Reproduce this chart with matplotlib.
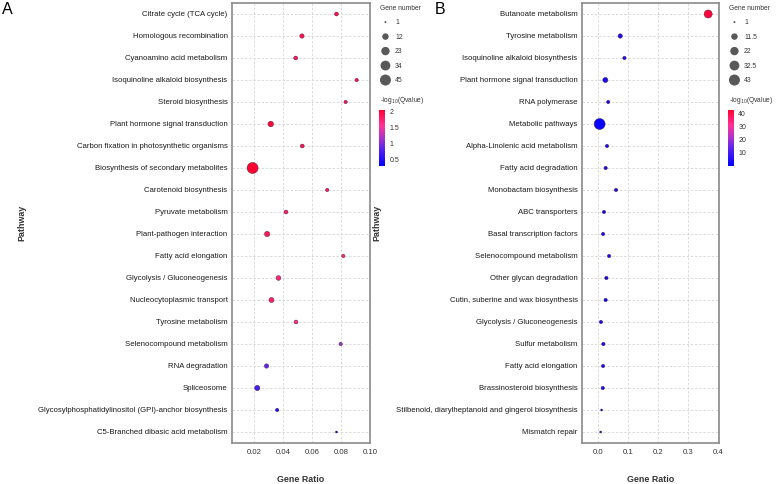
import numpy as np
import matplotlib
matplotlib.use('Agg')
import matplotlib.pyplot as plt
from matplotlib.colors import LinearSegmentedColormap, Normalize

plt.rcParams['font.family'] = ['Liberation Sans', 'DejaVu Sans']

# ---- panel A data ----
a_paths = ['Citrate cycle (TCA cycle)', 'Homologous recombination', 'Cyanoamino acid metabolism',
           'Isoquinoline alkaloid biosynthesis', 'Steroid biosynthesis', 'Plant hormone signal transduction',
           'Carbon fixation in photosynthetic organisms', 'Biosynthesis of secondary metabolites',
           'Carotenoid biosynthesis', 'Pyruvate metabolism', 'Plant-pathogen interaction',
           'Fatty acid elongation', 'Glycolysis / Gluconeogenesis', 'Nucleocytoplasmic transport',
           'Tyrosine metabolism', 'Selenocompound metabolism', 'RNA degradation', 'Spliceosome',
           'Glycosylphosphatidylinositol (GPI)-anchor biosynthesis', 'C5-Branched dibasic acid metabolism']
a_ratio = [0.0769, 0.0531, 0.0488, 0.0908, 0.0832, 0.0316, 0.0533, 0.0191, 0.0705, 0.0421,
           0.0291, 0.0816, 0.0369, 0.0321, 0.0490, 0.0798, 0.0287, 0.0223, 0.0360, 0.0769]
a_count = [3, 4, 3, 2, 2, 8, 3, 45, 2, 3, 7, 2, 5, 6, 3, 2, 4, 7, 2, 1]
a_q = [1.92, 1.90, 1.85, 1.92, 1.90, 2.0, 1.90, 2.06, 1.85, 1.80,
       1.85, 1.70, 1.72, 1.78, 1.60, 1.10, 0.85, 0.72, 0.45, 0.28]
a_size_breaks = [1, 12, 23, 34, 45]
a_cbar_ticks = [0.5, 1, 1.5, 2]
a_cbar_labels = ['0.5', '1', '1.5', '2']
a_xticks = [0.02, 0.04, 0.06, 0.08, 0.10]

# ---- panel B data ----
b_paths = ['Butanoate metabolism', 'Tyrosine metabolism', 'Isoquinoline alkaloid biosynthesis',
           'Plant hormone signal transduction', 'RNA polymerase', 'Metabolic pathways',
           'Alpha-Linolenic acid metabolism', 'Fatty acid degradation', 'Monobactam biosynthesis',
           'ABC transporters', 'Basal transcription factors', 'Selenocompound metabolism',
           'Other glycan degradation', 'Cutin, suberine and wax biosynthesis', 'Glycolysis / Gluconeogenesis',
           'Sulfur metabolism', 'Fatty acid elongation', 'Brassinosteroid biosynthesis',
           'Stilbenoid, diarylheptanoid and gingerol biosynthesis', 'Mismatch repair']
b_ratio = [0.367, 0.075, 0.089, 0.0255, 0.035, 0.0066, 0.031, 0.0265, 0.061, 0.021,
           0.018, 0.038, 0.029, 0.0265, 0.011, 0.019, 0.018, 0.017, 0.013, 0.010]
b_count = [20, 4, 2, 6, 2, 43, 2, 2, 2, 2, 2, 2, 2, 2, 2, 2, 2, 2, 1, 1]
b_q = [42.0, 5.0, 4.0, 3.5, 3.0, 1.5, 3.0, 3.0, 3.5, 2.5,
       2.5, 3.0, 2.5, 2.5, 2.0, 2.5, 2.5, 2.5, 2.0, 1.8]
b_size_breaks = [1, 11.5, 22, 32.5, 43]
b_cbar_ticks = [10, 20, 30, 40]
b_cbar_labels = ['10', '20', '30', '40']
b_xticks = [0.0, 0.1, 0.2, 0.3, 0.4]

W, H = 777, 484
cmap = LinearSegmentedColormap.from_list(
    'bluered', [(0, '#0000ff'), (0.3, '#5522ee'), (0.5, '#aa33cc'), (0.72, '#ff3399'), (1, '#ff0033')])


def fx(px):
    return px / W


def fy(py):
    return 1 - py / H


def dot_size(n, nmax):
    d = 2 + 9 * np.sqrt((np.asarray(n, float) - 1) / (nmax - 1))
    return (d * 0.72) ** 2


def panel(fig, left, right, paths, ratio, count, q, xlim, xticks, xfmt,
          norm, breaks, cbar_ticks, cbar_labels, letter, letter_x, lab_x):
    ax = fig.add_axes([fx(left), fy(443), fx(right - left), (443 - 3) / H])
    ypos = np.arange(len(paths))
    nmax = max(breaks)
    sc = ax.scatter(ratio, ypos, s=dot_size(count, nmax), c=q, cmap=cmap, norm=norm,
                    edgecolors='#40202a', linewidths=0.3, zorder=3)
    ax.set_ylim(len(paths) - 0.5, -0.5)
    ax.set_xlim(*xlim)
    ax.set_yticks(ypos)
    ax.set_yticklabels(paths, fontsize=5.6, color='#1a1a1a')
    ax.set_xticks(xticks)
    ax.set_xticklabels([xfmt % v for v in xticks], fontsize=5.6, color='#333333')
    ax.tick_params(length=0, pad=3.2)
    ax.tick_params(axis='x', pad=4.5)
    ax.grid(True, color='#d6d6d6', linestyle=(0, (3, 2)), linewidth=0.6, zorder=0)
    ax.set_axisbelow(True)
    for sp in ax.spines.values():
        sp.set_color('#8a8a8a')
        sp.set_linewidth(1.2)

    cx = (left + right) / 2
    fig.text(fx(cx), fy(479), 'Gene Ratio', fontsize=6.4, fontweight='bold',
             color='#333333', ha='center', va='center')
    fig.text(fx(lab_x), fy(223), 'Pathway', fontsize=6.4, fontweight='bold',
             color='#333333', ha='center', va='center', rotation=90)
    fig.text(fx(letter_x), fy(9.5), letter, fontsize=11.5, ha='left', va='center')

    # size legend
    handles = [ax.scatter([], [], s=dot_size(b, nmax), c='#595959', edgecolors='none') for b in breaks]
    labels = ['%g' % b for b in breaks]
    leg = fig.legend(handles, labels, title='Gene number', loc='upper left',
                     bbox_to_anchor=(fx(right + 10), fy(5)), frameon=False,
                     fontsize=4.9, title_fontsize=4.8, handlelength=1.6, handletextpad=0.6,
                     labelspacing=1.1, borderpad=0, borderaxespad=0, scatteryoffsets=[0.5])
    leg._legend_box.align = 'left'
    for t in leg.get_texts():
        t.set_color('#333333')
    leg.get_title().set_color('#333333')

    # colour legend
    fig.text(fx(right + 10), fy(100), r'-log$_{10}$(Qvalue)', fontsize=4.8,
             color='#333333', ha='left', va='center')
    cax = fig.add_axes([fx(right + 8.5), fy(166), fx(6), 56 / H])
    cb = fig.colorbar(sc, cax=cax)
    cb.set_ticks(cbar_ticks)
    cb.set_ticklabels(cbar_labels)
    cb.outline.set_visible(False)
    cax.tick_params(length=2, width=0.5, color='white', labelsize=5.0, labelcolor='#333333', pad=1.5)
    return ax


fig = plt.figure(figsize=(W / 100, H / 100), dpi=100)

panel(fig, 232, 370, a_paths, a_ratio, a_count, a_q, (0.0049, 0.1), a_xticks, '%.2f',
      Normalize(min(a_q), max(a_q)), a_size_breaks, a_cbar_ticks, a_cbar_labels, 'A', 2, 22)
panel(fig, 582, 719, b_paths, b_ratio, b_count, b_q, (-0.052, 0.403), b_xticks, '%.1f',
      Normalize(0, 43), b_size_breaks, b_cbar_ticks, b_cbar_labels, 'B', 435, 377)

fig.savefig('out.png', dpi=100, facecolor='white')
